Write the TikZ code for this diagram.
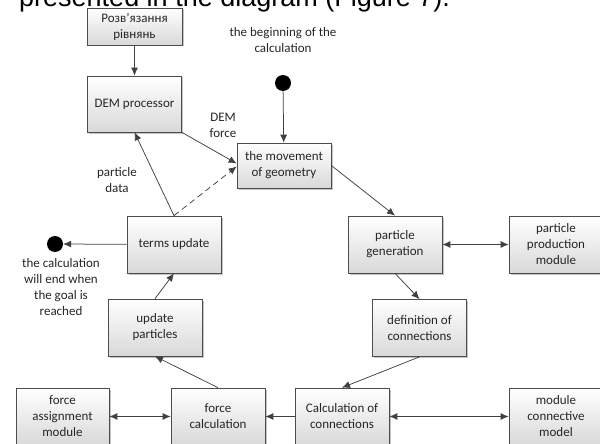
\documentclass[tikz,border=0pt]{standalone}
\usepackage{fontspec}
\setmainfont{Carlito}
\newfontfamily\arialfont{Liberation Sans}
\usetikzlibrary{arrows.meta,shadows}

\begin{document}
\begin{tikzpicture}[x=1pt, y=-1pt,
  every node/.style={font=\fontsize{13}{16}\selectfont, text=black!85},
  blok/.style={draw=black!70, line width=0.7pt, top color=white, bottom color=black!15,
    minimum width=94pt, minimum height=57pt, align=center, inner sep=2pt,
    drop shadow={shadow xshift=1.5pt, shadow yshift=-1.5pt, fill=black!45, opacity=0.5}},
  dot/.style={circle, fill=black, minimum size=16pt, inner sep=0pt},
  lbl/.style={align=center},
  arr/.style={draw=black!75, line width=0.75pt, -{Latex[length=8pt,width=7pt]}},
  darr/.style={arr, {Latex[length=8pt,width=7pt]}-{Latex[length=8pt,width=7pt]}}]

\useasboundingbox (0,0) rectangle (600,444);
\clip (0,0) rectangle (600,444);

% caption line cut by the top edge
\node[anchor=base west, font=\arialfont\fontsize{27}{30}\selectfont, text=black, inner sep=0pt] (cap) at (19,7) {presented in the diagram (Figure 7).};

% Define the blocks
\node[blok, minimum width=95pt, minimum height=37pt] (solve) at (134.5,26.5) {Розв’язання\\рівнянь};
\node[blok, minimum height=56pt] (dem) at (134.5,104) {DEM processor};
\node[blok, minimum height=45pt] (move) at (284,165.5) {the movement\\of geometry};

\node[blok] (terms) at (174,244.5) {terms update};
\node[blok] (pgen) at (395,244.5) {particle\\generation};
\node[blok] (pprod) at (556,244.5) {particle\\production\\module};

\node[blok] (upd) at (155,327.5) {update\\particles};
\node[blok] (defn) at (419.5,328) {definition of\\connections};

\node[blok, minimum width=93pt] (fassign) at (62.5,416.5) {force\\assignment\\module};
\node[blok] (fcalc) at (218,416.5) {force\\calculation};
\node[blok] (ccalc) at (342,416.5) {Calculation of\\connections};
\node[blok] (mcm) at (556,416.5) {module\\connective\\model};

% Start and end points
\node[dot] (start) at (283,83) {};
\node[dot] (stop) at (55,244) {};

% Labels
\node[lbl] (startlbl) at (283,40) {the beginning of the\\calculation};
\node[lbl] (stoplbl) at (61,287) {the calculation\\will end when\\the goal is\\reached};
\node[lbl] (demforce) at (223,125) {DEM\\force};
\node[lbl] (pdata) at (117,180) {particle\\data};

% Connectors
\draw[arr] (solve) -- (dem);
\draw[arr] (start) -- (move);
\draw[arr] (dem.south east) -- ([yshift=2pt]move.west);
\draw[arr] (terms.north) -- (dem.south);
\draw[arr, dashed, dash pattern=on 6pt off 4pt] (terms.north) -- ([yshift=-1pt]move.west);
\draw[arr] (move.east) -- (pgen.north);
\draw[darr] (pgen) -- (pprod);
\draw[arr] (pgen.south) -- (defn.north);
\draw[arr] (defn.south) -- (ccalc.north);
\draw[arr] (ccalc) -- (fcalc);
\draw[darr] (ccalc) -- (mcm);
\draw[darr] (fassign) -- (fcalc);
\draw[arr] (fcalc.north) -- (upd.south);
\draw[arr] (upd.north) -- (terms.south);
\draw[arr] (terms) -- (stop);

\end{tikzpicture}
\end{document}
